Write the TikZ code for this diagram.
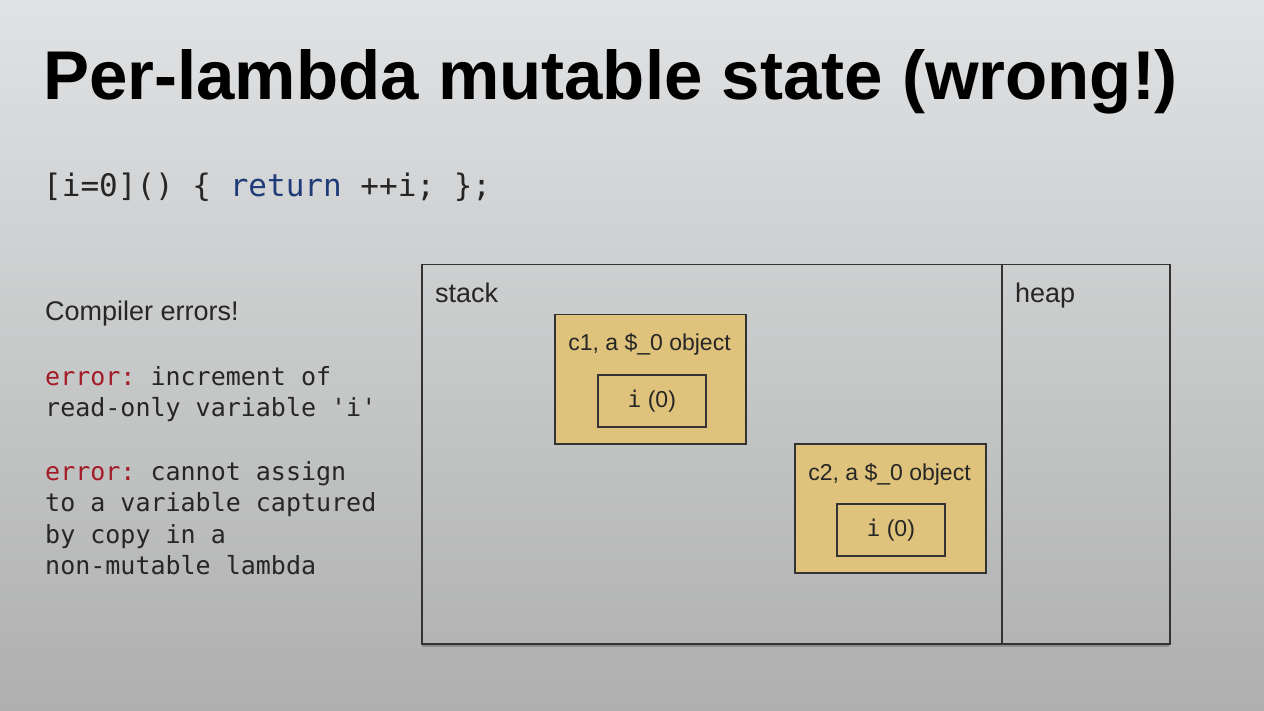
\documentclass[tikz,border=0pt]{standalone}
\usepackage{fontspec}
\setmainfont{Liberation Sans}
\newfontfamily\codefont{DejaVu Sans Mono}
\frenchspacing
\definecolor{slidetop}{HTML}{E1E2E4}
\definecolor{slidebot}{HTML}{AEAFAE}
\definecolor{kwblue}{HTML}{1F3C78}
\definecolor{errred}{HTML}{A31B26}
\definecolor{objfill}{HTML}{DFC27B}
\definecolor{edge}{HTML}{333333}
\begin{document}
\begin{tikzpicture}[x=1pt,y=-1pt,
  region/.style={draw=edge, line width=1.5pt, inner sep=0pt, anchor=north west},
  objbox/.style={draw=edge, line width=1.5pt, fill=objfill, inner sep=0pt, anchor=north west,
                 minimum width=191pt, minimum height=129pt},
  slotbox/.style={draw=edge, line width=1.5pt, inner sep=0pt, anchor=north west,
                  minimum width=108pt, minimum height=52pt},
  objlabel/.style={font=\fontsize{23}{27}\selectfont, text=black!85, anchor=base},
  slotlabel/.style={font=\fontsize{23}{27}\selectfont, text=black!85},
  plainlabel/.style={font=\fontsize{27}{31}\selectfont, text=black!85, anchor=base west, inner sep=0pt},
  codeline/.style={font=\codefont\fontsize{25}{30}\selectfont, text=black!85, anchor=base west, inner sep=0pt},
]
\useasboundingbox (0,0) rectangle (1264,711);
\shade[top color=slidetop, bottom color=slidebot] (0,0) rectangle (1264,711);

% title and code snippet
\node[anchor=base west, inner sep=0pt, font=\bfseries\fontsize{69}{73}\selectfont] (title)
  at (43,100) {Per-lambda mutable state (wrong!)};
\node[anchor=base west, inner sep=0pt, font=\codefont\fontsize{31}{36}\selectfont, text=black!85] (code)
  at (43,197) {[i=0]() \{ \textcolor{kwblue}{return} ++i; \};};

% compiler messages
\node[plainlabel] (cerr) at (45,321) {Compiler errors!};
\node[codeline] (e1a) at (45,385) {\textcolor{errred}{error:} increment of};
\node[codeline] (e1b) at (45,416) {read-only variable 'i'};
\node[codeline] (e2a) at (45,480) {\textcolor{errred}{error:} cannot assign};
\node[codeline] (e2b) at (45,511) {to a variable captured};
\node[codeline] (e2c) at (45,543) {by copy in a};
\node[codeline] (e2d) at (45,574) {non-mutable lambda};

% memory regions (with a faint shadow under the bottom edge)
\draw[black!45, line width=2pt] (422,645.5) -- (1169,645.5);
\node[region, minimum width=580pt, minimum height=379pt] (stack) at (421,264) {};
\node[region, minimum width=168pt, minimum height=379pt] (heap) at (1001,264) {};
\node[plainlabel] (stacklbl) at (435,303) {stack};
\node[plainlabel] (heaplbl) at (1015,303) {heap};

% closure objects
\node[objbox] (c1) at (554,314) {};
\node[objlabel] (c1lbl) at (649.5,351) {c1, a \$\_0 object};
\node[slotbox] (c1i) at (597,374) {};
\node[slotlabel] at (c1i.center) {{\codefont i} (0)};

\node[objbox] (c2) at (794,443) {};
\node[objlabel] (c2lbl) at (889.5,480) {c2, a \$\_0 object};
\node[slotbox] (c2i) at (836,503) {};
\node[slotlabel] at (c2i.center) {{\codefont i} (0)};
\end{tikzpicture}
\end{document}
